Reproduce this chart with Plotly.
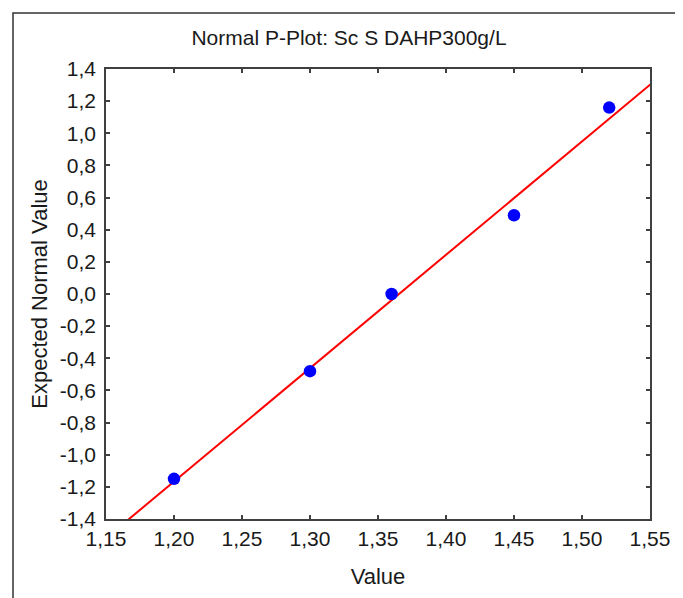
import numpy as np
import plotly.graph_objects as go

values = [1.20, 1.30, 1.36, 1.45, 1.52]
expected = [-1.15, -0.48, 0.00, 0.49, 1.16]
x_ticks = [1.15, 1.20, 1.25, 1.30, 1.35, 1.40, 1.45, 1.50, 1.55]
x_tick_labels = ["1,15", "1,20", "1,25", "1,30", "1,35", "1,40", "1,45", "1,50", "1,55"]
y_ticks = [-1.4, -1.2, -1.0, -0.8, -0.6, -0.4, -0.2, 0.0, 0.2, 0.4, 0.6, 0.8, 1.0, 1.2, 1.4]
y_tick_labels = ["-1,4", "-1,2", "-1,0", "-0,8", "-0,6", "-0,4", "-0,2", "0,0",
                 "0,2", "0,4", "0,6", "0,8", "1,0", "1,2", "1,4"]

# fitted reference line
slope, intercept = np.polyfit(values, expected, 1)
line_x = [1.10, 1.60]
line_y = [slope * v + intercept for v in line_x]

OFF = 8  # default page body margin
W, H = 683 - OFF, 598 - OFF
L, R, T, B = 106 - OFF, 650 - OFF, 69 - OFF, 519 - OFF

fig = go.Figure()
fig.add_trace(go.Scatter(x=line_x, y=line_y, mode="lines",
                         line=dict(color="#ff0000", width=2), showlegend=False))
fig.add_trace(go.Scatter(x=values, y=expected, mode="markers",
                         marker=dict(color="#0000ff", size=12.5, line=dict(width=0)),
                         showlegend=False))

font = "Liberation Sans, Arial, sans-serif"
axis_common = dict(showgrid=False, zeroline=False, showline=True, linecolor="#404040",
                   linewidth=1.5, mirror="ticks", ticks="inside", ticklen=4,
                   tickcolor="#404040", tickwidth=1.5,
                   tickfont=dict(family=font, size=21, color="#1a1a1a"))

fig.update_layout(
    width=W, height=H,
    margin=dict(l=L, r=W - R, t=T, b=H - B, autoexpand=False),
    paper_bgcolor="white", plot_bgcolor="white",
    title=dict(text="Normal P-Plot: Sc S DAHP300g/L", x=(349 - OFF) / W, xanchor="center",
               y=1 - (38 - OFF) / H, yanchor="middle",
               font=dict(family=font, size=21, color="#1a1a1a")),
    xaxis=dict(range=[1.15, 1.55], tickvals=x_ticks, ticktext=x_tick_labels,
               title=dict(text="Value", standoff=20,
                          font=dict(family=font, size=22, color="#1a1a1a")),
               **axis_common),
    yaxis=dict(range=[-1.4, 1.4], tickvals=y_ticks, ticktext=y_tick_labels,
               ticklabelstandoff=4,
               title=dict(text="Expected Normal Value", standoff=6,
                          font=dict(family=font, size=22, color="#1a1a1a")),
               **axis_common),
)

# outer frame
px_x = lambda p: (p - OFF - L) / (R - L)
px_y = lambda p: (B - (p - OFF)) / (B - T)
fig.add_shape(type="rect", xref="paper", yref="paper",
              x0=px_x(13), x1=px_x(677), y0=px_y(620), y1=px_y(13),
              line=dict(color="#333333", width=1.5), fillcolor="rgba(0,0,0,0)")

fig.write_html("out.html")
